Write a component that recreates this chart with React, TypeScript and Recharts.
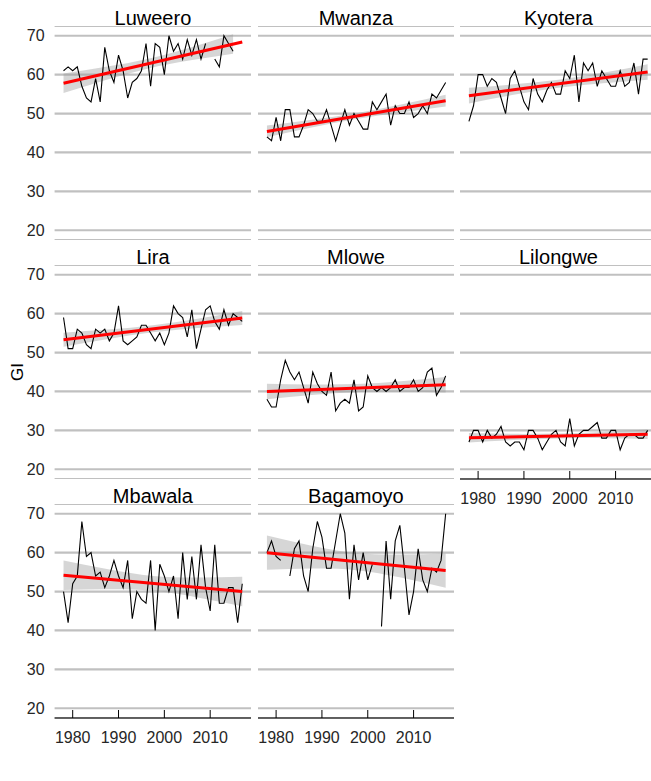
import React from 'react';
import { ComposedChart, Line, Area, XAxis, YAxis, CartesianGrid } from 'recharts';

const years = [
  1978, 1979, 1980, 1981, 1982, 1983, 1984, 1985, 1986, 1987,
  1988, 1989, 1990, 1991, 1992, 1993, 1994, 1995, 1996, 1997,
  1998, 1999, 2000, 2001, 2002, 2003, 2004, 2005, 2006, 2007,
  2008, 2009, 2010, 2011, 2012, 2013, 2014, 2015, 2016, 2017,
];
const yTicks = [20, 30, 40, 50, 60, 70];
const xTicks = [1980, 1990, 2000, 2010];

const luweero = [61, 62, 61, 62, 57, 54, 53, 59, 53, 67, 61, 58, 65, 61, 54, 58, 59, 61, 68, 57, 68, 67, 60, 70, 66, 68, 64, 69, 65, 69, 64, 68, null, 64, 62, 70, 68, 66, null, null];
const mwanza = [44, 43, 49, 43, 51, 51, 44, 44, 47, 51, 50, 48, 48, 51, 47, 43, 47, 51, 47, 50, 48, 46, 46, 53, 51, 53, 55, 47, 52, 50, 50, 53, 49, 50, 52, 50, 55, 54, 56, 58];
const kyotera = [48, 52, 60, 60, 57, 59, 58, 54, 50, 59, 61, 57, 53, 51, 59, 55, 53, 56, 58, 55, 55, 61, 59, 65, 53, 63, 61, 63, 57, 61, 59, 57, 57, 61, 57, 58, 63, 55, 64, 64];
const lira = [59, 51, 51, 56, 55, 52, 51, 56, 55, 56, 53, 55, 62, 53, 52, 53, 54, 57, 57, 55, 53, 55, 52, 55, 62, 60, 59, 54, 61, 51, 56, 61, 62, 58, 56, 61, 57, 60, 59, 58];
const mlowe = [38, 36, 36, 43, 48, 45, 43, 45, 41, 37, 45, 42, 40, 39, 45, 35, 37, 38, 37, 43, 35, 36, 44, 41, 40, 41, 40, 41, 43, 40, 41, 41, 43, 40, 41, 45, 46, 39, 41, 44];
const lilongwe = [27, 30, 30, 27, 30, 28, 29, 31, 27, 26, 27, 27, 25, 30, 30, 28, 25, 27, 29, 30, 27, 26, 33, 26, 29, 30, 30, 31, 32, 28, 28, 30, 30, 25, 28, 29, 29, 28, 28, 30];
const mbawala = [50, 42, 52, 54, 68, 59, 60, 54, 55, 51, 54, 58, 54, 51, 58, 43, 50, 48, 47, 58, 40, 57, 54, 50, 54, 43, 60, 48, 59, 48, 62, 51, 45, 62, 47, 47, 51, 51, 42, 52];
const bagamoyo = [60, 63, 59, 58, null, 54, 61, 63, 54, 50, 61, 68, 64, 56, 56, 63, 70, 65, 48, 62, 53, 60, 53, 57, null, 41, 63, 48, 63, 67, 56, 44, 50, 61, 53, 50, 56, 55, 58, 70];

// fitted trend line (start, end)
const trendYears = [1978, 2017];
const luweeroTrend = [57.8, 68.4];
const mwanzaTrend = [45.4, 53.3];
const kyoteraTrend = [54.6, 60.7];
const liraTrend = [53.3, 58.9];
const mloweTrend = [40.0, 41.7];
const lilongweTrend = [28.1, 29.0];
const mbawalaTrend = [54.2, 50.0];
const bagamoyoTrend = [60.0, 55.4];

// confidence band edges
const bandYears = [1978, 1987.75, 1997.5, 2007.25, 2017];
const luweeroBandYears = [1978, 1987.25, 1996.5, 2005.75, 2015];
const luweeroLo = [55.3, 58.6, 61.6, 63.7, 65.4];
const luweeroHi = [60.3, 62.0, 64.1, 67.0, 70.4];
const mwanzaLo = [43.9, 46.4, 48.6, 50.3, 51.8];
const mwanzaHi = [46.9, 48.4, 50.1, 52.3, 54.8];
const kyoteraLo = [52.6, 54.8, 56.6, 57.8, 58.7];
const kyoteraHi = [56.6, 57.5, 58.7, 60.5, 62.7];
const liraLo = [51.5, 53.5, 55.2, 56.3, 57.1];
const liraHi = [55.1, 55.9, 57.0, 58.7, 60.7];
const mloweLo = [38.0, 39.1, 39.8, 39.9, 39.7];
const mloweHi = [42.0, 41.8, 41.9, 42.6, 43.7];
const lilongweLo = [26.9, 27.5, 27.9, 28.0, 27.8];
const lilongweHi = [29.3, 29.1, 29.2, 29.6, 30.2];
const mbawalaLo = [50.4, 50.6, 50.2, 48.5, 46.2];
const mbawalaHi = [58.0, 55.7, 54.0, 53.6, 53.8];
const bagamoyoLo = [55.6, 55.9, 55.5, 53.6, 51.0];
const bagamoyoHi = [64.4, 61.8, 59.9, 59.5, 59.8];

const sites = [
  { name: 'Luweero', values: luweero, trend: luweeroTrend, bandX: luweeroBandYears, lo: luweeroLo, hi: luweeroHi, col: 0, row: 0, xAxis: false },
  { name: 'Mwanza', values: mwanza, trend: mwanzaTrend, bandX: bandYears, lo: mwanzaLo, hi: mwanzaHi, col: 1, row: 0, xAxis: false },
  { name: 'Kyotera', values: kyotera, trend: kyoteraTrend, bandX: bandYears, lo: kyoteraLo, hi: kyoteraHi, col: 2, row: 0, xAxis: false },
  { name: 'Lira', values: lira, trend: liraTrend, bandX: bandYears, lo: liraLo, hi: liraHi, col: 0, row: 1, xAxis: false },
  { name: 'Mlowe', values: mlowe, trend: mloweTrend, bandX: bandYears, lo: mloweLo, hi: mloweHi, col: 1, row: 1, xAxis: false },
  { name: 'Lilongwe', values: lilongwe, trend: lilongweTrend, bandX: bandYears, lo: lilongweLo, hi: lilongweHi, col: 2, row: 1, xAxis: true },
  { name: 'Mbawala', values: mbawala, trend: mbawalaTrend, bandX: bandYears, lo: mbawalaLo, hi: mbawalaHi, col: 0, row: 2, xAxis: true },
  { name: 'Bagamoyo', values: bagamoyo, trend: bagamoyoTrend, bandX: bandYears, lo: bagamoyoLo, hi: bagamoyoHi, col: 1, row: 2, xAxis: true },
];

const FONT = '"Liberation Sans", Arial, sans-serif';
const COL_LEFT = [54.6, 257.6, 460.2];
const ROW_TOP = [26.3, 265.3, 504.3];
const PW = 196.6;
const PH = 214;
const YW = 54.6;
const AXIS_H = 40;

const XTick = (props: any) => {
  const { x, y, payload } = props;
  return (
    <g>
      <line x1={x} x2={x} y1={y - 8} y2={y} stroke="#000" strokeWidth={1} />
      <text x={x} y={y + 25} textAnchor="middle" fill="#262626" fontSize={16} fontFamily={FONT}>
        {payload.value}
      </text>
    </g>
  );
};

function Panel({ site }: { site: any }) {
  const showY = site.col === 0;
  const yW = showY ? YW : 0;
  const axisH = site.xAxis ? AXIS_H : 0;
  const left = showY ? 0 : COL_LEFT[site.col];
  const w = yW + PW;
  const h = PH + axisH;
  const lineData = years.map((y, i) => ({ year: y, gi: site.values[i] }));
  const trendData = trendYears.map((y, i) => ({ year: y, fit: site.trend[i] }));
  const bandData = site.bandX.map((y: number, i: number) => ({ year: y, ci: [site.lo[i], site.hi[i]] }));
  return (
    <div style={{ position: 'absolute', left, top: ROW_TOP[site.row], width: w, height: h }}>
      <ComposedChart width={w} height={h} margin={{ top: 0, right: 0, bottom: 0, left: 0 }}>
        <CartesianGrid horizontal vertical={false} stroke="#c0c0c0" strokeWidth={2.2} />
        <XAxis
          type="number"
          dataKey="year"
          domain={[1976.05, 2018.95]}
          allowDataOverflow
          ticks={xTicks}
          interval={0}
          hide={!site.xAxis}
          height={axisH}
          tickSize={0}
          tickMargin={0}
          tickLine={false}
          axisLine={{ stroke: '#000', strokeWidth: 1 }}
          tick={XTick}
        />
        <YAxis
          type="number"
          domain={[17.5, 72.5]}
          allowDataOverflow
          ticks={yTicks}
          interval={0}
          hide={!showY}
          width={yW}
          tickLine={false}
          axisLine={false}
          tickSize={0}
          tickMargin={10}
          tick={{ fill: '#262626', fontSize: 16, fontFamily: FONT }}
        />
        <Area data={bandData} dataKey="ci" type="natural" fill="#999999" fillOpacity={0.4} stroke="none" isAnimationActive={false} />
        <Line data={lineData} dataKey="gi" type="linear" stroke="#000" strokeWidth={1.1} dot={false} connectNulls={false} isAnimationActive={false} />
        <Line data={trendData} dataKey="fit" type="linear" stroke="#ff0000" strokeWidth={3} dot={false} isAnimationActive={false} />
      </ComposedChart>
      <div
        style={{
          position: 'absolute',
          left: yW,
          width: PW,
          top: -18.2,
          height: 20,
          lineHeight: '20px',
          fontSize: 20,
          fontFamily: FONT,
          color: '#000',
          textAlign: 'center',
          whiteSpace: 'nowrap',
        }}
      >
        {site.name}
      </div>
    </div>
  );
}

export default function App() {
  return (
    <div style={{ position: 'absolute', left: 0, top: 0, width: 651, height: 781, background: '#fff', overflow: 'hidden' }}>
      {sites.map((s) => (
        <Panel key={s.name} site={s} />
      ))}
      <div
        style={{
          position: 'absolute',
          left: 18 - 20,
          top: 372 - 10,
          width: 40,
          height: 20,
          lineHeight: '20px',
          textAlign: 'center',
          fontSize: 17,
          fontFamily: FONT,
          color: '#000',
          transform: 'rotate(-90deg)',
        }}
      >
        GI
      </div>
    </div>
  );
}
